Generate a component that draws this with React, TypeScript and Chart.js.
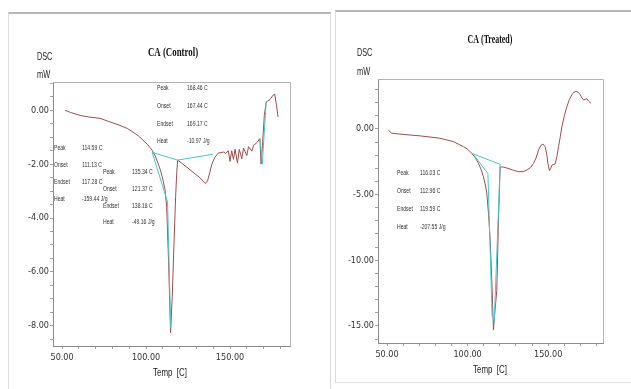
import React, { useEffect, useRef } from 'react';
import { Chart, registerables } from 'chart.js';
Chart.register(...registerables);

// ---------- CA (Control) ----------
const controlTemp = [51.8, 55, 60.7, 66, 72.6, 78, 84.5, 89, 92.3, 95.5, 98.2, 101, 103.6, 105.5, 107.1, 108.7, 110.1, 111.3, 112.3, 113.4, 114.59, 115.6, 116.6, 117.6, 118.3, 118.8, 121, 124, 128, 132, 135.3, 136.6, 138, 139.2, 141, 143, 146, 147.5, 149, 150, 151, 152, 153, 154.4, 155.5, 157, 158, 160, 161, 163, 164, 166, 167.8, 168.46, 169.3, 170.4, 171.5, 172.5, 173.8, 175.6, 176.6, 177.6, 178.6];
const controlDsc = [0.0, -0.08, -0.19, -0.25, -0.3, -0.42, -0.56, -0.68, -0.81, -0.95, -1.11, -1.28, -1.48, -1.7, -1.96, -2.25, -2.59, -2.95, -3.6, -5.6, -8.26, -6.9, -5.0, -3.2, -2.3, -1.85, -1.95, -2.1, -2.3, -2.5, -2.72, -2.62, -2.3, -2.0, -1.74, -1.59, -1.55, -1.6, -1.5, -1.9, -1.5, -1.82, -1.45, -1.95, -1.45, -1.8, -1.4, -1.68, -1.35, -1.52, -1.3, -1.2, -1.05, -2.0, -1.3, -0.2, 0.3, 0.35, 0.4, 0.56, 0.6, 0.2, -0.25];
const controlBaseline1: [number, number][] = [[103.6, -1.56], [118.8, -1.85]];
const controlTangent1: [number, number][] = [[103.6, -1.56], [112.8, -3.4], [114.7, -8.1]];
const controlBaseline2: [number, number][] = [[118.8, -1.85], [139.9, -1.63]];
const controlTangent3: [number, number][] = [[167.9, -1.1], [169.2, -2.0], [171.5, 0.3]];
const controlYLabels = [0, -2, -4, -6, -8];
const controlYMinorStep = 0.5;
const controlXLabels = [50, 100, 150];
const xMinorStep = 10;

const eventLabels = ['Peak', 'Onset', 'Endset', 'Heat'];
const controlEvent1 = ['114.59 C', '111.13 C', '117.28 C', '-159.44 J/g'];
const controlEvent2 = ['135.34 C', '121.37 C', '138.18 C', '-49.16 J/g'];
const controlEvent3 = ['168.46 C', '167.44 C', '169.17 C', '-10.97 J/g'];

// ---------- CA (Treated) ----------
const treatedTemp = [50.8, 52.9, 60, 70.5, 82.9, 91.2, 97.4, 100, 102.6, 104.8, 106.7, 108.4, 109.8, 110.9, 111.9, 113.0, 114.0, 115.0, 116.03, 117.0, 118.1, 119.1, 120.2, 122, 125, 128.5, 131.6, 134.5, 136.8, 139, 140.9, 142.5, 144, 145.5, 146.7, 148.1, 149.2, 149.8, 150.8, 151.6, 152.3, 153.5, 154.3, 155.4, 156.4, 157.5, 158.5, 160, 161.6, 163.2, 164.7, 166, 167.4, 168.7, 169.9, 171, 171.9, 173, 174, 175.2, 176.5];
const treatedDsc = [-0.08, -0.33, -0.42, -0.53, -0.71, -0.97, -1.35, -1.55, -1.86, -2.2, -2.62, -3.1, -3.64, -4.2, -4.9, -6.5, -8.5, -11.5, -15.3, -13.8, -12.3, -7.2, -2.9, -2.9, -3.0, -3.15, -3.26, -3.25, -3.13, -2.95, -2.62, -2.2, -1.6, -1.25, -1.15, -1.35, -2.0, -2.62, -3.18, -3.0, -2.75, -2.7, -2.67, -2.1, -1.35, -0.6, 0.18, 1.0, 1.7, 2.25, 2.6, 2.8, 2.85, 2.78, 2.6, 2.35, 2.2, 2.25, 2.3, 2.1, 1.95];
const treatedBaseline: [number, number][] = [[102.6, -1.86], [120.2, -2.7]];
const treatedTangent: [number, number][] = [[104, -2.0], [112.6, -3.4], [115.2, -14.3]];
const treatedEndLine: [number, number][] = [[120.2, -2.7], [116.5, -14.8]];
const treatedYLabels = [0, -5, -10, -15];
const treatedYMinorStep = 1;
const treatedXLabels = [50, 100, 150];
const treatedEvent = ['116.03 C', '112.96 C', '119.59 C', '-207.55 J/g'];

// ---------- styling ----------
const CURVE = '#a24c4c';
const CYAN = '#45c6ca';
const TICK_FONT = "'Liberation Sans Narrow', 'Arial Narrow', 'DejaVu Sans Condensed', Arial, sans-serif";
const SANS = "Arial, 'Liberation Sans', sans-serif";
const SERIF = "'Liberation Serif', 'Times New Roman', serif";

type TextItem = { text: string; x: number; y: number; font: string; sx?: number; align?: CanvasTextAlign; color?: string };

function stepTicks(min: number, max: number, step: number) {
  const out: number[] = [];
  const start = Math.ceil(min / step - 1e-9) * step;
  for (let v = start; v <= max + 1e-9; v += step) out.push(Math.round(v * 1000) / 1000);
  return out;
}

function eventBox(values: string[], labelX: number, valueX: number, y0: number, dy: number): TextItem[] {
  const items: TextItem[] = [];
  eventLabels.forEach((l, i) => {
    items.push({ text: l, x: labelX, y: y0 + i * dy, font: `7.5px ${SANS}`, sx: 0.68, color: '#333' });
    items.push({ text: values[i], x: valueX, y: y0 + i * dy, font: `7.5px ${SANS}`, sx: 0.68, color: '#333' });
  });
  return items;
}

function textLayer(items: TextItem[]) {
  return {
    id: 'textLayer',
    beforeDatasetsDraw(chart: any) {
      const { ctx, chartArea } = chart;
      ctx.save();
      ctx.strokeStyle = '#b4b4b4';
      ctx.lineWidth = 1;
      ctx.beginPath();
      ctx.moveTo(chartArea.left, chartArea.top + 0.5);
      ctx.lineTo(chartArea.right + 0.5, chartArea.top + 0.5);
      ctx.lineTo(chartArea.right + 0.5, chartArea.bottom);
      ctx.stroke();
      ctx.restore();
    },
    afterDraw(chart: any) {
      const ctx = chart.ctx;
      for (const t of items) {
        ctx.save();
        ctx.font = t.font;
        ctx.fillStyle = t.color || '#222';
        ctx.textBaseline = 'middle';
        ctx.textAlign = t.align || 'left';
        ctx.translate(t.x, t.y);
        ctx.scale(t.sx || 1, 1);
        ctx.fillText(t.text, 0, 0);
        ctx.restore();
      }
    },
  };
}

function pts(xs: number[], ys: number[]) {
  return xs.map((x, i) => ({ x, y: ys[i] }));
}
function pairs(p: [number, number][]) {
  return p.map(([x, y]) => ({ x, y }));
}

type PanelCfg = {
  width: number; height: number;
  area: { left: number; top: number; right: number; bottom: number };
  xMin: number; xMax: number; yMin: number; yMax: number;
  xLabels: number[]; yLabels: number[]; yMinor: number;
  curve: { x: number; y: number }[];
  cyan: { x: number; y: number }[][];
  texts: TextItem[];
};

function buildConfig(p: PanelCfg): any {
  const xTicks = stepTicks(p.xMin, p.xMax, xMinorStep);
  const yTicks = stepTicks(p.yMin, p.yMax, p.yMinor);
  const has = (arr: number[], v: number) => arr.some((a) => Math.abs(a - v) < 1e-6);
  const datasets: any[] = [
    ...p.cyan.map((d) => ({ data: d, borderColor: CYAN, borderWidth: 1, pointRadius: 0, showLine: true, tension: 0 })),
    { data: p.curve, borderColor: CURVE, borderWidth: 1, pointRadius: 0, showLine: true, tension: 0 },
  ];
  const tickFont = { family: TICK_FONT, size: 9 };
  return {
    type: 'scatter',
    data: { datasets },
    options: {
      responsive: false,
      animation: false,
      devicePixelRatio: 1,
      layout: { padding: { left: 0, top: p.area.top, right: p.width - p.area.right, bottom: 0 } },
      plugins: { legend: { display: false }, title: { display: false }, tooltip: { enabled: false } },
      scales: {
        x: {
          type: 'linear', min: p.xMin, max: p.xMax,
          afterBuildTicks: (s: any) => { s.ticks = xTicks.map((v) => ({ value: v })); },
          afterFit: (s: any) => { s.height = p.height - p.area.bottom; },
          ticks: { font: tickFont, color: '#333', padding: 3, maxRotation: 0, autoSkip: false,
            callback: (v: any) => (has(p.xLabels, Number(v)) ? Number(v).toFixed(2) : '') },
          grid: { display: true, drawOnChartArea: false, drawTicks: true, tickLength: 3, color: '#a0a0a0' },
          border: { display: true, color: '#8c8c8c' },
        },
        y: {
          type: 'linear', min: p.yMin, max: p.yMax,
          afterBuildTicks: (s: any) => { s.ticks = yTicks.map((v) => ({ value: v })); },
          afterFit: (s: any) => { s.width = p.area.left; },
          ticks: { font: tickFont, color: '#333', padding: 1, autoSkip: false,
            callback: (v: any) => (has(p.yLabels, Number(v)) ? Number(v).toFixed(2) : '') },
          grid: { display: true, drawOnChartArea: false, drawTicks: true, tickLength: 3, color: '#a0a0a0' },
          border: { display: true, color: '#8c8c8c' },
        },
      },
    },
    plugins: [textLayer(p.texts)],
  };
}

const controlPanel: PanelCfg = {
  width: 322, height: 389,
  area: { left: 53, top: 82, right: 290, bottom: 346 },
  xMin: 44.6, xMax: 185.7, yMin: -8.75, yMax: 1.05,
  xLabels: controlXLabels, yLabels: controlYLabels, yMinor: controlYMinorStep,
  curve: pts(controlTemp, controlDsc),
  cyan: [pairs(controlBaseline1), pairs(controlTangent1), pairs(controlBaseline2), pairs(controlTangent3)],
  texts: [
    { text: 'CA (Control)', x: 173, y: 53, font: `bold 13px ${SERIF}`, sx: 0.68, align: 'center', color: '#111' },
    { text: 'DSC', x: 37, y: 57, font: `11px ${SANS}`, sx: 0.66, color: '#222' },
    { text: 'mW', x: 37, y: 75, font: `11px ${SANS}`, sx: 0.67, color: '#222' },
    { text: 'Temp  [C]', x: 170, y: 373, font: `11px ${SANS}`, sx: 0.72, align: 'center', color: '#222' },
    ...eventBox(controlEvent1, 54, 82, 148, 17),
    ...eventBox(controlEvent2, 103, 132, 172, 16.8),
    ...eventBox(controlEvent3, 157, 187, 88, 17.8),
  ],
};

const treatedPanel: PanelCfg = {
  width: 311, height: 389,
  area: { left: 58, top: 79, right: 283, bottom: 343 },
  xMin: 44.4, xMax: 184, yMin: -16.3, yMax: 3.8,
  xLabels: treatedXLabels, yLabels: treatedYLabels, yMinor: treatedYMinorStep,
  curve: pts(treatedTemp, treatedDsc),
  cyan: [pairs(treatedBaseline), pairs(treatedTangent), pairs(treatedEndLine)],
  texts: [
    { text: 'CA (Treated)', x: 170, y: 40, font: `bold 13px ${SERIF}`, sx: 0.61, align: 'center', color: '#111' },
    { text: 'DSC', x: 37, y: 53, font: `11px ${SANS}`, sx: 0.66, color: '#222' },
    { text: 'mW', x: 37, y: 72, font: `11px ${SANS}`, sx: 0.67, color: '#222' },
    { text: 'Temp  [C]', x: 170, y: 370, font: `11px ${SANS}`, sx: 0.72, align: 'center', color: '#222' },
    ...eventBox(treatedEvent, 77, 100, 173, 18),
  ],
};

function Panel({ cfg, left }: { cfg: PanelCfg; left: number }) {
  const ref = useRef<HTMLCanvasElement | null>(null);
  useEffect(() => {
    if (!ref.current) return;
    const chart = new Chart(ref.current, buildConfig(cfg));
    return () => chart.destroy();
  }, [cfg]);
  return (
    <canvas
      ref={ref}
      width={cfg.width}
      height={cfg.height}
      style={{ position: 'absolute', left, top: 0, width: cfg.width, height: cfg.height }}
    />
  );
}

export default function App() {
  return (
    <div style={{ position: 'fixed', left: 0, top: 0, width: 631, height: 389, background: '#fff', overflow: 'hidden' }}>
      <div style={{ position: 'absolute', left: 8, top: 12, width: 323, height: 400, borderTop: '2px solid #b8b8b8', borderLeft: '1px solid #dcdcdc', borderRight: '1px solid #dcdcdc', boxSizing: 'border-box' }} />
      <div style={{ position: 'absolute', left: 335, top: 10, width: 300, height: 373, borderTop: '2px solid #b8b8b8', borderLeft: '1px solid #dcdcdc', borderBottom: '1px solid #e6e6e6', boxSizing: 'border-box' }} />
      <Panel cfg={controlPanel} left={0} />
      <Panel cfg={treatedPanel} left={320} />
    </div>
  );
}
